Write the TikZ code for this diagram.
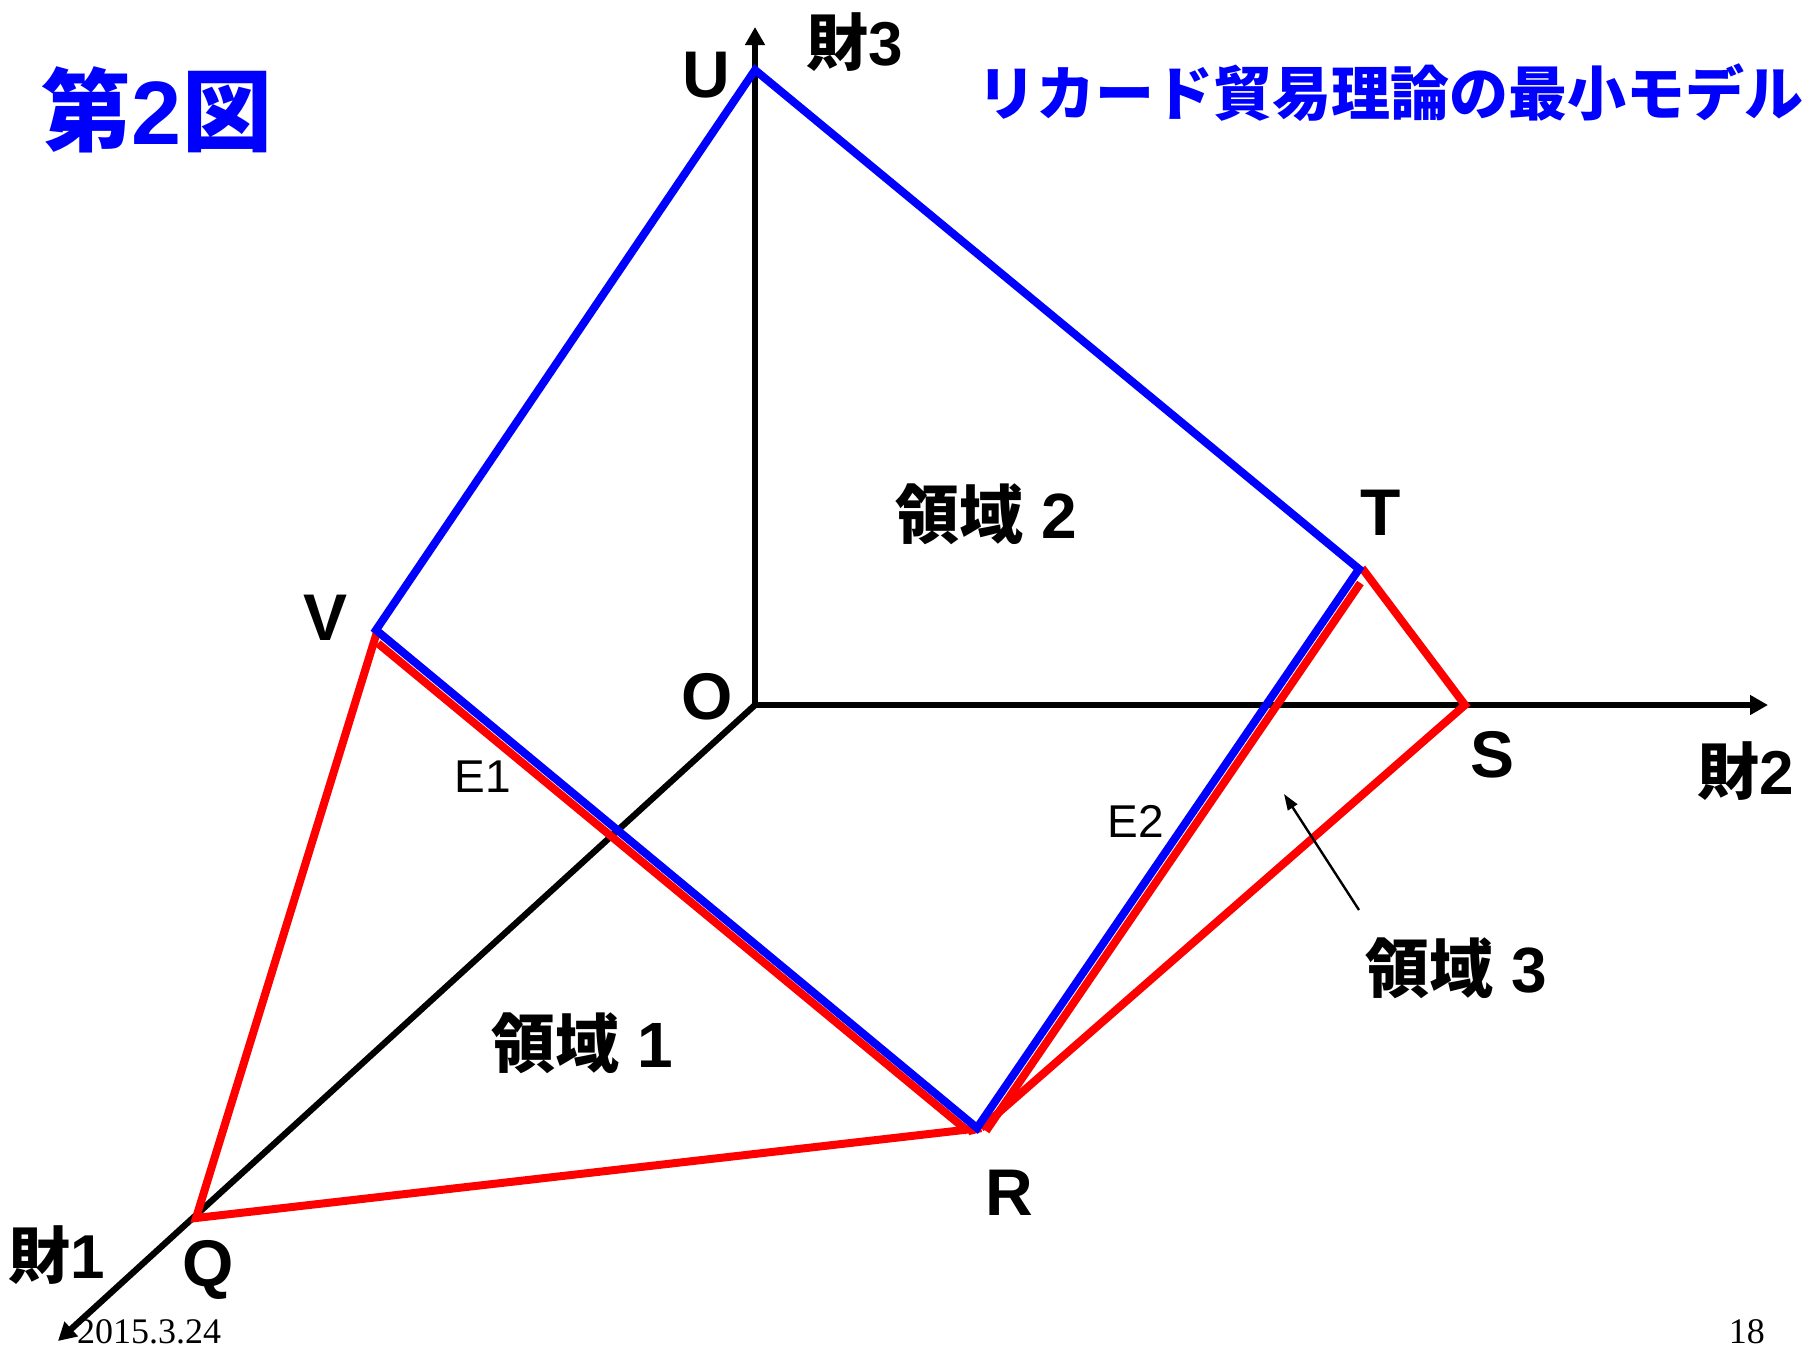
\documentclass[tikz,border=0pt]{standalone}
\usepackage{fontspec}
\setmainfont{Liberation Sans}
\newfontfamily\jp{Noto Sans CJK JP}
\newfontfamily\serifdate{Liberation Serif}
\usetikzlibrary{arrows.meta}
\definecolor{pblue}{RGB}{0,0,255}
\definecolor{pred}{RGB}{255,0,0}
\tikzset{
  axisline/.style={line width=6.3pt,black,-{Triangle[length=18pt,width=19pt]}},
  blueline/.style={line width=8pt,pblue,line join=miter},
  redline/.style={line width=8pt,pred,line join=miter},
  ptlabel/.style={inner sep=0pt,font=\fontsize{66}{66}\selectfont\bfseries},
  axlabel/.style={inner sep=0pt,font=\fontsize{62}{62}\selectfont\bfseries},
  reglabel/.style={inner sep=0pt,font=\fontsize{64}{64}\selectfont\bfseries},
  elabel/.style={inner sep=0pt,font=\fontsize{46}{46}\selectfont},
}
\begin{document}
\begin{tikzpicture}[x=1pt,y=-1pt]
\useasboundingbox (0,0) rectangle (1818,1350);
% points
\coordinate (O) at (755,705);
\coordinate (U) at (755,70);
\coordinate (V) at (376,630);
\coordinate (T) at (1359,569);
\coordinate (R) at (977,1128);
\coordinate (Q) at (196,1218);
\coordinate (S) at (1465,705);
\coordinate (Vr) at (377,632);
\coordinate (Vr2) at (378,643.4);
\coordinate (Rr1) at (968,1131.3);
\coordinate (Rr2) at (981,1128);
\coordinate (Rr3) at (986,1131);
\coordinate (Tr) at (1360.4,583);
\coordinate (Tr2) at (1362,568);
\coordinate (Z3) at (755,27);
\coordinate (Z2) at (1768,705);
\coordinate (Z1) at (58,1341);
% axes
\draw[axisline] (O) -- (Z3);
\draw[axisline] (O) -- (Z2);
\draw[axisline] (O) -- (Z1);
% red lines
\draw[redline] (Vr2) -- (Rr1);
\draw[redline] (Rr1) -- (Rr2);
\draw[redline] (Rr2) -- (Q) -- (Vr);
\draw[redline] (Tr) -- (Rr3);
\draw[redline] (Rr2) -- (S) -- (Tr2);
% blue quadrilateral
\draw[blueline] (V) -- (U) -- (T) -- (R) -- cycle;
% arrow for region 3
\coordinate (A1) at (1359,910);
\coordinate (A2) at (1284,794);
\draw[line width=2.4pt,-{Triangle[length=16pt,width=11pt]}] (A1) -- (A2);
% labels
\node[inner sep=0pt,text=pblue,font=\fontsize{90}{90}\selectfont\bfseries] (title) at (157,110) {{\jp 第}2{\jp 図}};
\node[inner sep=0pt,text=pblue,font=\fontsize{59}{59}\selectfont\bfseries\jp] (subtitle) at (1390,93) {リカード貿易理論の最小モデル};
\node[axlabel] (g3) at (855,42) {{\jp 財}3};
\node[axlabel] (g2) at (1746,771) {{\jp 財}2};
\node[axlabel] (g1) at (57,1255) {{\jp 財}1};
\node[ptlabel] (lU) at (706,75) {U};
\node[ptlabel] (lV) at (326,618) {V};
\node[ptlabel] (lO) at (707,697) {O};
\node[ptlabel] (lT) at (1381,513) {T};
\node[ptlabel] (lS) at (1492,755) {S};
\node[ptlabel] (lR) at (1009,1193) {R};
\node[ptlabel] (lQ) at (208,1270) {Q};
\node[elabel] (e1) at (483,777) {E1};
\node[elabel] (e2) at (1136,821) {E2};
\node[reglabel] (r2) at (986,514) {{\jp 領域} 2};
\node[reglabel] (r1) at (582,1043) {{\jp 領域} 1};
\node[reglabel] (r3) at (1456,968) {{\jp 領域} 3};
\node[inner sep=0pt,anchor=base west,font=\fontsize{36}{36}\selectfont\serifdate] (date) at (77,1343) {2015.3.24};
\node[inner sep=0pt,anchor=base east,font=\fontsize{36}{36}\selectfont\serifdate] (page) at (1765,1343) {18};
\end{tikzpicture}
\end{document}
